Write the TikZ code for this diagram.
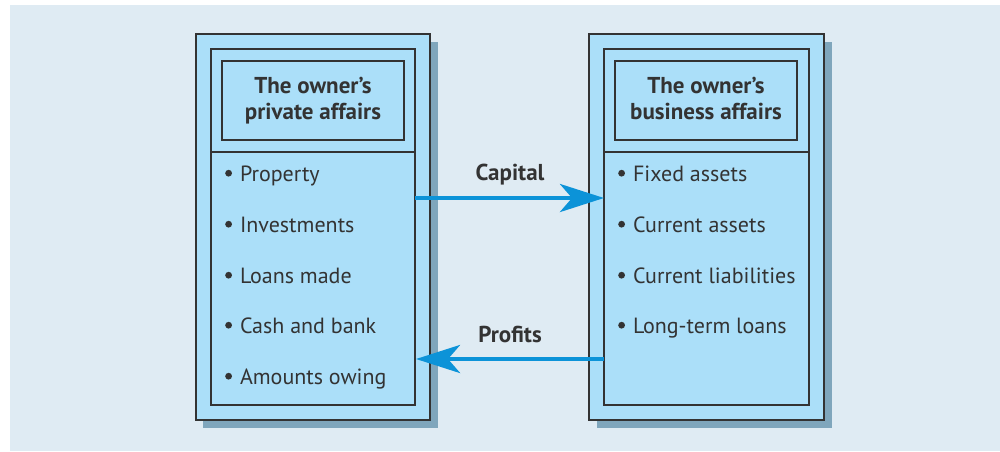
\documentclass[tikz,border=0pt]{standalone}
\usepackage{fontspec}
\setmainfont{PT Sans}
\usetikzlibrary{arrows.meta}
\definecolor{panel}{HTML}{DFEBF3}
\definecolor{boxfill}{HTML}{ABDFF9}
\definecolor{shadowc}{HTML}{7FA6BC}
\definecolor{arrowc}{HTML}{0C93D8}
\definecolor{linec}{HTML}{333333}
\tikzset{
  frame/.style={draw=linec, line width=1.4pt, fill=boxfill},
  titletext/.style={font=\fontsize{23}{27}\selectfont\bfseries, text=linec, anchor=base, inner sep=0pt},
  item/.style={font=\fontsize{22}{26}\selectfont, text=linec, anchor=base west, inner sep=0pt},
  flowlabel/.style={font=\fontsize{23}{27}\selectfont\bfseries, text=linec, anchor=base, inner sep=0pt},
  flow/.style={draw=arrowc, line width=4.6pt, -{Stealth[length=44pt,width=28pt,inset=12pt]}},
}
\newcommand{\bul}{\raisebox{0.2em}{\tikz\fill[linec] (0,0) circle (3.4pt);}\hspace{8pt}}
\begin{document}
\begin{tikzpicture}[x=1pt,y=-1pt]
\useasboundingbox (0,0) rectangle (1000,451);
\fill[white] (0,0) rectangle (1000,451);
\fill[panel] (10,5) rectangle (1000,451);
% left block
\fill[shadowc] (203,42) rectangle (438,428);
\draw[frame] (196,34) rectangle (430,420);
\draw[frame] (211,49) rectangle (415,405);
\draw[draw=linec, line width=1.4pt] (211,152) -- (415,152);
\draw[draw=linec, line width=1.4pt] (222,61) rectangle (404,140);
\node[titletext] (lt1) at (313,93) {The owner’s};
\node[titletext] (lt2) at (313,119.5) {private affairs};
% right block
\fill[shadowc] (597,42) rectangle (832,428);
\draw[frame] (589,34) rectangle (824,420);
\draw[frame] (604,49) rectangle (809,405);
\draw[draw=linec, line width=1.4pt] (604,152) -- (809,152);
\draw[draw=linec, line width=1.4pt] (615,61) rectangle (797,140);
\node[titletext] (rt1) at (706,93) {The owner’s};
\node[titletext] (rt2) at (706,119.5) {business affairs};
% items left
\node[item] (l1) at (225,181) {\bul Property};
\node[item] (l2) at (225,232) {\bul Investments};
\node[item] (l3) at (225,283) {\bul Loans made};
\node[item] (l4) at (225,333) {\bul Cash and bank};
\node[item] (l5) at (225,384) {\bul Amounts owing};
% items right
\node[item] (r1) at (618,181) {\bul Fixed assets};
\node[item] (r2) at (618,232) {\bul Current assets};
\node[item] (r3) at (618,283) {\bul Current liabilities};
\node[item] (r4) at (618,333) {\bul Long-term loans};
% connectors
\coordinate (capA) at (415,198);
\coordinate (capB) at (604,198);
\coordinate (proA) at (604,359);
\coordinate (proB) at (416,359);
\draw[flow] (capA) -- (capB);
\draw[flow] (proA) -- (proB);
\node[flowlabel] (cap) at (510,180) {Capital};
\node[flowlabel] (pro) at (510,342.5) {Profits};
\end{tikzpicture}
\end{document}
